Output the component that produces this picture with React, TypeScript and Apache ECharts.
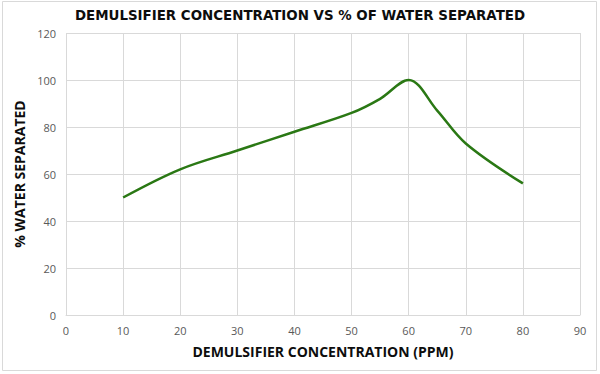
import React, { useEffect, useRef } from "react";
import * as echarts from "echarts";

const xValues = [10, 20, 30, 40, 50, 55, 60, 65, 70, 80];
const yValues = [50, 62, 70, 78, 86, 92, 100, 87, 73, 56];
const titleText = "DEMULSIFIER CONCENTRATION VS % OF WATER SEPARATED";
const xAxisName = "DEMULSIFIER CONCENTRATION (PPM)";
const yAxisName = "% WATER SEPARATED";

export default function App() {
  const ref = useRef<HTMLDivElement>(null);
  useEffect(() => {
    const chart = echarts.init(ref.current!, null, { renderer: "svg" });
    const font = "'Open Sans', 'Liberation Sans', sans-serif";
    chart.setOption({
      animation: false,
      backgroundColor: "#ffffff",
      title: {
        text: titleText,
        left: "center",
        top: 4,
        textStyle: { fontFamily: "'DejaVu Sans', sans-serif", fontWeight: "bold", fontSize: 13.4, color: "#0d0d0d" },
      },
      graphic: [
        {
          type: "rect",
          shape: { x: 2.5, y: 1.5, width: 594, height: 369 },
          style: { fill: "none", stroke: "#d9d9d9", lineWidth: 1 },
          silent: true,
        },
      ],
      grid: { left: 66, right: 20, top: 33, bottom: 59, containLabel: false },
      xAxis: {
        type: "value",
        min: 0,
        max: 90,
        interval: 10,
        name: xAxisName,
        nameLocation: "middle",
        nameGap: 29,
        nameTextStyle: { fontFamily: font, fontWeight: "bold", fontSize: 14, color: "#0d0d0d" },
        axisLine: { show: true, lineStyle: { color: "#d9d9d9" } },
        axisTick: { show: false },
        axisLabel: { fontFamily: font, fontSize: 11, color: "#595959", margin: 10 },
        splitLine: { show: true, lineStyle: { color: "#d9d9d9", width: 1 } },
      },
      yAxis: {
        type: "value",
        min: 0,
        max: 120,
        interval: 20,
        name: yAxisName,
        nameLocation: "middle",
        nameGap: 40,
        nameTextStyle: { fontFamily: font, fontWeight: "bold", fontSize: 14, color: "#0d0d0d" },
        axisLine: { show: false },
        axisTick: { show: false },
        axisLabel: { fontFamily: font, fontSize: 11, color: "#595959", margin: 10 },
        splitLine: { show: true, lineStyle: { color: "#d9d9d9", width: 1 } },
      },
      series: [
        {
          type: "line",
          data: xValues.map((x, i) => [x, yValues[i]]),
          smooth: 0.35,
          symbol: "none",
          lineStyle: { color: "#2a7814", width: 2.5 },
        },
      ],
    });
    return () => chart.dispose();
  }, []);
  return <div ref={ref} style={{ position: "fixed", left: 0, top: 0, width: 600, height: 374 }} />;
}
